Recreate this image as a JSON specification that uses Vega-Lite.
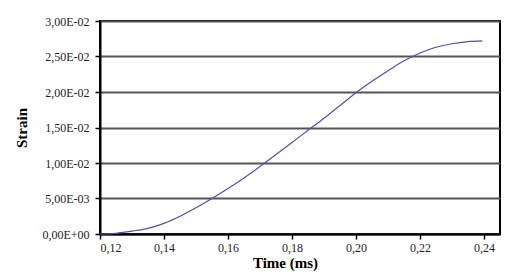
{
  "$schema": "https://vega.github.io/schema/vega-lite/v6.json",
  "autosize": {"type": "none"},
  "width": 400,
  "height": 213,
  "padding": {"left": 100, "top": 21, "right": 20, "bottom": 46},
  "background": "white",
  "config": {
    "view": {"stroke": "black", "strokeWidth": 2},
    "font": "Liberation Serif, Times New Roman, serif"
  },
  "data": {
    "values": [
      {"time": 0.120, "strain": 0.0000},
      {"time": 0.125, "strain": 0.0001},
      {"time": 0.130, "strain": 0.0004},
      {"time": 0.135, "strain": 0.0008},
      {"time": 0.140, "strain": 0.0015},
      {"time": 0.145, "strain": 0.0025},
      {"time": 0.150, "strain": 0.0037},
      {"time": 0.155, "strain": 0.0050},
      {"time": 0.160, "strain": 0.0064},
      {"time": 0.165, "strain": 0.0079},
      {"time": 0.170, "strain": 0.0095},
      {"time": 0.175, "strain": 0.0112},
      {"time": 0.180, "strain": 0.0129},
      {"time": 0.185, "strain": 0.0146},
      {"time": 0.190, "strain": 0.0163},
      {"time": 0.195, "strain": 0.0181},
      {"time": 0.200, "strain": 0.0199},
      {"time": 0.205, "strain": 0.0215},
      {"time": 0.210, "strain": 0.0230},
      {"time": 0.215, "strain": 0.0244},
      {"time": 0.220, "strain": 0.0255},
      {"time": 0.225, "strain": 0.0263},
      {"time": 0.230, "strain": 0.0268},
      {"time": 0.235, "strain": 0.0271},
      {"time": 0.2395, "strain": 0.0272}
    ]
  },
  "mark": {"type": "line", "interpolate": "monotone", "color": "#5050a8", "strokeWidth": 1.2},
  "encoding": {
    "x": {
      "field": "time",
      "type": "quantitative",
      "scale": {"domain": [0.12, 0.245], "nice": false, "zero": false},
      "axis": {
        "title": "Time (ms)",
        "values": [0.12, 0.14, 0.16, 0.18, 0.2, 0.22, 0.24],
        "labelExpr": "replace(format(datum.value, '.2f'), '.', ',')",
        "grid": false,
        "domainColor": "black",
        "domainWidth": 2,
        "tickColor": "black",
        "tickWidth": 1.5,
        "tickSize": 5,
        "labelFont": "Liberation Serif, Times New Roman, serif",
        "labelFontSize": 12,
        "labelColor": "#222",
        "labelPadding": 3,
        "titleFont": "Liberation Serif, Times New Roman, serif",
        "titleFontSize": 15,
        "titleFontWeight": "bold",
        "titleColor": "black",
        "titleX": 185,
        "titleY": 21,
        "titleBaseline": "top"
      }
    },
    "y": {
      "field": "strain",
      "type": "quantitative",
      "scale": {"domain": [0, 0.03], "nice": false},
      "axis": {
        "title": "Strain",
        "values": [0, 0.005, 0.01, 0.015, 0.02, 0.025, 0.03],
        "labelExpr": "datum.value == 0 ? '0,00E+00' : replace(format(datum.value / pow(10, floor(log(datum.value) / LN10 + 1e-9)), '.2f'), '.', ',') + 'E-0' + (-floor(log(datum.value) / LN10 + 1e-9))",
        "grid": true,
        "gridColor": "#555555",
        "gridWidth": 2,
        "domainColor": "black",
        "domainWidth": 2,
        "tickColor": "black",
        "tickWidth": 1.5,
        "tickSize": 5,
        "labelFont": "Liberation Serif, Times New Roman, serif",
        "labelFontSize": 12,
        "labelColor": "#222",
        "labelPadding": 6,
        "titleFont": "Liberation Serif, Times New Roman, serif",
        "titleFontSize": 15,
        "titleFontWeight": "bold",
        "titleColor": "black",
        "titlePadding": 12
      }
    }
  }
}
